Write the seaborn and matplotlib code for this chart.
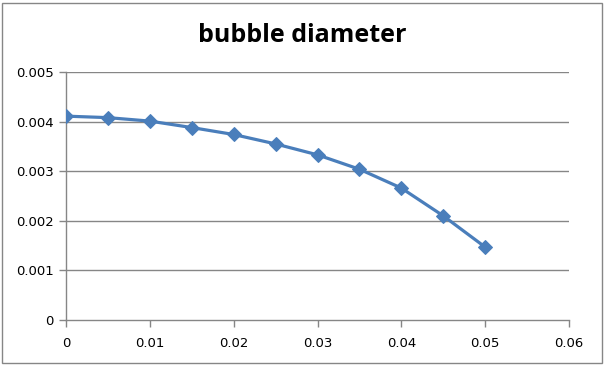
import matplotlib
matplotlib.use("Agg")
import matplotlib.pyplot as plt
import seaborn as sns
import pandas as pd
from matplotlib.patches import Rectangle

x_vals = [0, 0.005, 0.01, 0.015, 0.02, 0.025, 0.03, 0.035, 0.04, 0.045, 0.05]
diameter = [0.00411, 0.00408, 0.00401, 0.00388, 0.00374, 0.00355, 0.00333, 0.00304, 0.00266, 0.00210, 0.00147]
x_ticks = [0, 0.01, 0.02, 0.03, 0.04, 0.05, 0.06]
x_labels = ["0", "0.01", "0.02", "0.03", "0.04", "0.05", "0.06"]
y_ticks = [0, 0.001, 0.002, 0.003, 0.004, 0.005]
y_labels = ["0", "0.001", "0.002", "0.003", "0.004", "0.005"]

df = pd.DataFrame({"x": x_vals, "d": diameter})

sns.set_theme(style="white")
plt.rcParams['font.family'] = ['DejaVu Sans']

fig = plt.figure(figsize=(6.05, 3.65), dpi=100)
ax = fig.add_axes([66/605, 1 - 320/365, (569-66)/605, (320-72)/365])

grid_c = "#868686"
for yt in y_ticks[1:]:
    ax.axhline(yt, color=grid_c, lw=1.0, zorder=0)

sns.lineplot(data=df, x="x", y="d", ax=ax, color="#4A7EBB", lw=2.3,
             marker="D", markersize=7, markeredgecolor="#4A7EBB", zorder=3)

ax.set_xlim(0, 0.06)
ax.set_ylim(0, 0.005)
ax.set_xticks(x_ticks)
ax.set_xticklabels(x_labels)
ax.set_yticks(y_ticks)
ax.set_yticklabels(y_labels)
ax.set_xlabel("")
ax.set_ylabel("")
for s in ["top", "right"]:
    ax.spines[s].set_visible(False)
for s in ["left", "bottom"]:
    ax.spines[s].set_color(grid_c)
    ax.spines[s].set_linewidth(1.0)
ax.tick_params(axis="both", which="both", direction="out", length=5, width=1,
               color=grid_c, labelsize=9.5, labelcolor="#000000", pad=4)
ax.tick_params(axis="x", pad=7)
ax.tick_params(left=True, bottom=True)

fig.text(0.5, 1 - 36/365, "bubble diameter", ha="center", va="center",
         fontsize=18, fontweight="bold", color="#000000",
         family=["Open Sans", "DejaVu Sans"])

fig.patches.append(Rectangle((2/605, 2/365), 600/605, 360/365, transform=fig.transFigure,
                             fill=False, edgecolor=grid_c, lw=1.0))

fig.savefig("out.png", dpi=100)
